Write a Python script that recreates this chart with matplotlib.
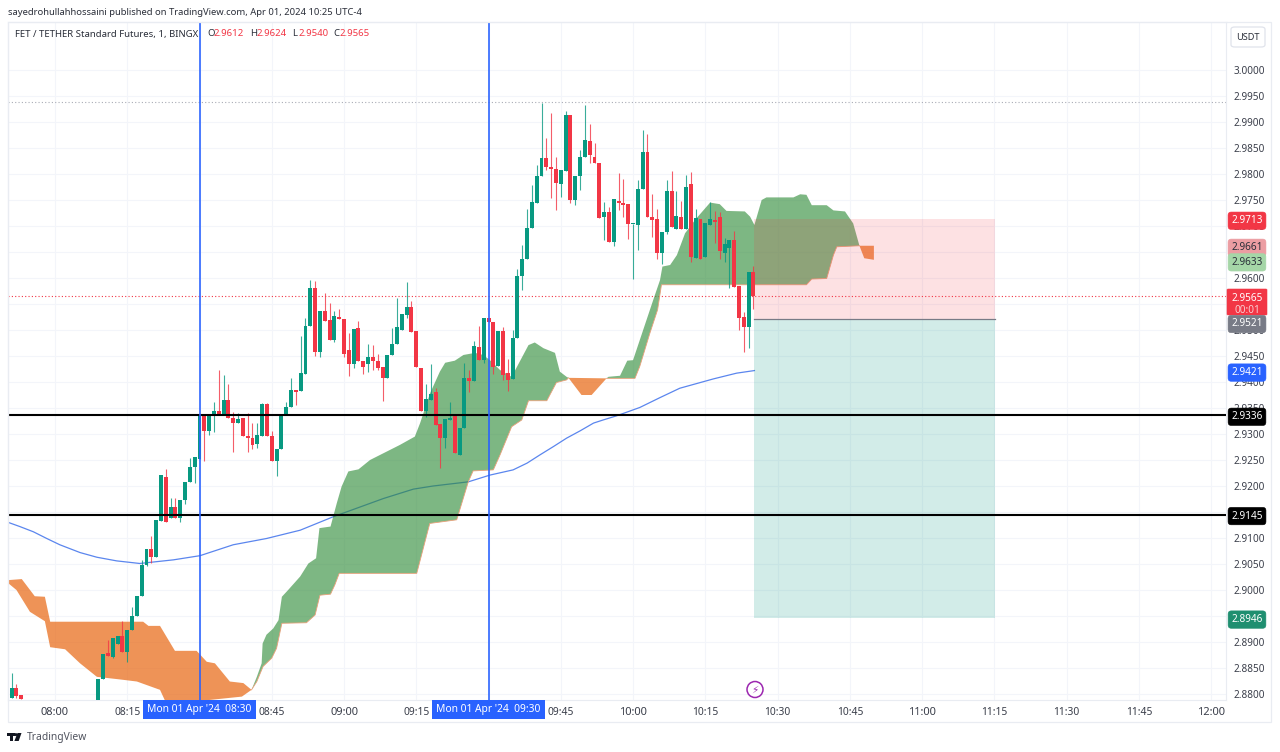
import matplotlib
matplotlib.use("Agg")
import matplotlib.pyplot as plt
from matplotlib.patches import Rectangle, Ellipse, Polygon, FancyBboxPatch
from matplotlib.transforms import blended_transform_factory

# ---- candles: minutes after 08:00, price values ----
minutes = [-10, -9, -8, -7] + list(range(9, 146))
opens = [2.8804,2.8792,2.8812,2.8798,
 2.8780,2.8828,2.8878,2.8872,2.8896,2.8912,2.8881,2.8923,2.8950,2.8989,
 2.9048,2.9078,2.9063,2.9133,2.9218,2.9138,2.9160,2.9138,2.9173,2.9207,
 2.9237,2.9252,2.9336,2.9306,2.9337,2.9345,2.9337,2.9365,2.9331,2.9322,
 2.9331,2.9296,2.9292,2.9281,2.9297,2.9358,2.9297,2.9248,2.9271,2.9339,
 2.9351,2.9385,2.9383,2.9415,2.9508,2.9581,2.9458,2.9537,2.9519,2.9481,
 2.9525,2.9521,2.9462,2.9435,2.9503,2.9441,2.9435,2.9448,2.9441,2.9428,
 2.9408,2.9452,2.9473,2.9500,2.9529,2.9545,2.9498,2.9427,2.9344,2.9365,
 2.9381,2.9319,2.9292,2.9327,2.9335,2.9260,2.9312,2.9407,2.9401,2.9468,
 2.9442,2.9524,2.9515,2.9430,2.9499,2.9417,2.9406,2.9484,2.9603,2.9637,
 2.9697,2.9744,2.9797,2.9830,2.9813,2.9810,2.9781,2.9806,2.9913,2.9750,
 2.9797,2.9832,2.9864,2.9832,2.9821,2.9718,2.9726,2.9669,2.9748,2.9745,
 2.9742,2.9703,2.9702,2.9771,2.9843,2.9717,2.9713,2.9648,2.9688,2.9767,
 2.9694,2.9717,2.9694,2.9781,2.9638,2.9714,2.9640,2.9701,2.9712,2.9718,
 2.9649,2.9658,2.9674,2.9585,2.9525,2.9506,2.9612]
highs = [2.8804,2.8840,2.8820,2.8798,
 2.8828,2.8876,2.8904,2.8908,2.8912,2.8940,2.8924,2.8968,2.8989,2.9058,
 2.9078,2.9103,2.9135,2.9221,2.9232,2.9176,2.9176,2.9173,2.9207,2.9253,
 2.9255,2.9336,2.9337,2.9337,2.9362,2.9423,2.9414,2.9396,2.9343,2.9340,
 2.9331,2.9340,2.9321,2.9321,2.9360,2.9360,2.9305,2.9271,2.9339,2.9362,
 2.9407,2.9385,2.9489,2.9524,2.9596,2.9594,2.9537,2.9572,2.9551,2.9537,
 2.9540,2.9521,2.9494,2.9501,2.9517,2.9441,2.9473,2.9472,2.9454,2.9428,
 2.9452,2.9503,2.9561,2.9531,2.9592,2.9556,2.9498,2.9427,2.9396,2.9435,
 2.9388,2.9319,2.9328,2.9362,2.9335,2.9312,2.9436,2.9424,2.9479,2.9508,
 2.9524,2.9524,2.9515,2.9499,2.9506,2.9444,2.9500,2.9617,2.9663,2.9732,
 2.9779,2.9817,2.9936,2.9869,2.9917,2.9833,2.9807,2.9922,2.9913,2.9797,
 2.9846,2.9933,2.9897,2.9859,2.9821,2.9747,2.9737,2.9751,2.9801,2.9790,
 2.9742,2.9704,2.9788,2.9885,2.9876,2.9761,2.9732,2.9689,2.9788,2.9806,
 2.9767,2.9749,2.9799,2.9803,2.9732,2.9714,2.9705,2.9747,2.9729,2.9726,
 2.9676,2.9674,2.9690,2.9585,2.9535,2.9611,2.9624]
lows = [2.8798,2.8792,2.8792,2.8790,
 2.8770,2.8828,2.8873,2.8869,2.8896,2.8881,2.8862,2.8923,2.8950,2.8989,
 2.9046,2.9051,2.9063,2.9133,2.9131,2.9138,2.9138,2.9131,2.9165,2.9207,
 2.9205,2.9252,2.9248,2.9298,2.9303,2.9337,2.9337,2.9330,2.9265,2.9322,
 2.9296,2.9266,2.9272,2.9274,2.9297,2.9297,2.9248,2.9220,2.9271,2.9339,
 2.9351,2.9356,2.9383,2.9415,2.9508,2.9450,2.9448,2.9518,2.9480,2.9476,
 2.9521,2.9449,2.9412,2.9426,2.9440,2.9415,2.9420,2.9423,2.9424,2.9364,
 2.9408,2.9452,2.9473,2.9500,2.9523,2.9497,2.9428,2.9344,2.9333,2.9365,
 2.9317,2.9234,2.9273,2.9327,2.9263,2.9260,2.9312,2.9380,2.9401,2.9442,
 2.9436,2.9515,2.9415,2.9430,2.9403,2.9383,2.9406,2.9484,2.9577,2.9637,
 2.9697,2.9744,2.9797,2.9808,2.9753,2.9731,2.9755,2.9806,2.9744,2.9740,
 2.9769,2.9832,2.9821,2.9821,2.9715,2.9673,2.9669,2.9662,2.9731,2.9718,
 2.9675,2.9598,2.9654,2.9771,2.9717,2.9678,2.9637,2.9626,2.9684,2.9699,
 2.9694,2.9694,2.9694,2.9630,2.9638,2.9637,2.9640,2.9701,2.9667,2.9637,
 2.9631,2.9581,2.9583,2.9500,2.9458,2.9465,2.9540]
closes = [2.8798,2.8812,2.8796,2.8790,
 2.8828,2.8876,2.8873,2.8908,2.8912,2.8881,2.8924,2.8950,2.8989,2.9048,
 2.9078,2.9063,2.9135,2.9221,2.9131,2.9160,2.9138,2.9173,2.9207,2.9237,
 2.9255,2.9336,2.9306,2.9337,2.9345,2.9337,2.9365,2.9330,2.9322,2.9329,
 2.9296,2.9292,2.9279,2.9299,2.9358,2.9297,2.9248,2.9271,2.9339,2.9351,
 2.9385,2.9381,2.9417,2.9508,2.9581,2.9458,2.9537,2.9518,2.9480,2.9527,
 2.9521,2.9454,2.9435,2.9501,2.9440,2.9428,2.9448,2.9441,2.9427,2.9408,
 2.9452,2.9474,2.9505,2.9531,2.9545,2.9497,2.9428,2.9344,2.9367,2.9377,
 2.9317,2.9292,2.9328,2.9331,2.9263,2.9312,2.9407,2.9402,2.9469,2.9442,
 2.9524,2.9515,2.9428,2.9499,2.9414,2.9403,2.9484,2.9603,2.9637,2.9697,
 2.9747,2.9797,2.9830,2.9813,2.9810,2.9782,2.9807,2.9913,2.9750,2.9797,
 2.9832,2.9865,2.9837,2.9821,2.9715,2.9726,2.9669,2.9751,2.9744,2.9740,
 2.9704,2.9704,2.9772,2.9843,2.9717,2.9712,2.9648,2.9689,2.9767,2.9699,
 2.9719,2.9694,2.9775,2.9640,2.9715,2.9637,2.9705,2.9713,2.9707,2.9651,
 2.9666,2.9674,2.9583,2.9524,2.9506,2.9611,2.9565]

# ---- moving average line ----
ema_t = [-9.7,-7.3,-4.5,-1.7,1,5.2,8.7,12.8,17.6,24.6,30.1,37,43.9,50.9,57.8,68.2,74.4,78.5,85.8,90.3,95.1,98,100.7,103.5,106.2,109,111.8,113.8,116.6,121.4,125.6,129.7,136.7,141.5,145.2]
ema_p = [2.9130,2.9122,2.9112,2.9099,2.9087,2.9072,2.9063,2.9056,2.9051,2.9058,2.9066,2.9087,2.9099,2.9115,2.9141,2.9176,2.9194,2.9200,2.9208,2.9221,2.9231,2.9244,2.9260,2.9276,2.9292,2.9306,2.9321,2.9327,2.9335,2.9351,2.9370,2.9388,2.9406,2.9417,2.9422]

# ---- cloud segments: upper and lower edges ----
o1_up_t = [-9.7,-6.9,-4.2,-2.1,-1,18.3,19.4,21.8,24.9,29.4,31.5,33.2,36.3,39.1,40.8]
o1_up_p = [2.9019,2.9021,2.8988,2.8987,2.8939,2.8939,2.8931,2.8931,2.8883,2.8883,2.8862,2.8859,2.8824,2.8821,2.8808]
o1_lo_t = [-9.7,-8,-5.2,-2.1,-1,2.1,5.2,8.7,13.5,17,21.8,23.2,38.8,40.8]
o1_lo_p = [2.9013,2.9000,2.8958,2.8940,2.8890,2.8886,2.8859,2.8833,2.8828,2.8824,2.8808,2.8780,2.8795,2.8808]

g1_up_t = [40.8,41.9,42.9,43.1,43.9,45.3,46.4,47.1,48.4,50.9,52.6,54.2,54.9,57.2,58.5,59.5,60.9,63,65.4,71.6,74.7,75.8,77.85,79.9,81,83,84.8,87.2,88.9,90.3,92.4,94.8,98.3,99.6,101.4,103.8,104.8,106.2,106.6]
g1_up_p = [2.8808,2.8833,2.8859,2.8897,2.8914,2.8926,2.8942,2.8987,2.9000,2.9026,2.9051,2.9061,2.9119,2.9122,2.9167,2.9199,2.9228,2.9232,2.9250,2.9279,2.9295,2.9321,2.9378,2.9420,2.9437,2.9441,2.9452,2.9456,2.9452,2.9442,2.9423,2.9410,2.9471,2.9476,2.9465,2.9456,2.9420,2.9410,2.9408]
g1_lo_t = [40.8,41.9,43.2,45,46,47.1,52.2,54,55,57.2,58.1,59,75.1,77.8,83.4,85.8,86.8,91,92.4,94.8,96.9,98.3,102.1,104.1,106.2,106.6]
g1_lo_p = [2.8808,2.8824,2.8853,2.8869,2.8888,2.8936,2.8937,2.8952,2.8990,2.8992,2.9010,2.9032,2.9032,2.9128,2.9135,2.9208,2.9229,2.9231,2.9260,2.9314,2.9327,2.9364,2.9364,2.9399,2.9404,2.9408]

o2_up_t = [106.6,114.5]
o2_up_p = [2.9408,2.9407]
o2_lo_t = [106.6,109.3,111.4,114.5]
o2_lo_p = [2.9408,2.9375,2.9375,2.9407]

g2_up_t = [114.5,114.9,117.3,118.8,120,124.2,125.6,126.1,127.7,129.1,130.8,132.9,136,138,139.4,143.2,144.3,145.2,146.7,147.7,153.3,154.7,156,157.1,160.2,161.6,164,165.7,167]
g2_up_p = [2.9407,2.9410,2.9412,2.9441,2.9442,2.9558,2.9596,2.9622,2.9625,2.9644,2.9686,2.9712,2.9745,2.9742,2.9729,2.9728,2.9718,2.9702,2.9750,2.9755,2.9755,2.9761,2.9760,2.9740,2.9740,2.9730,2.9728,2.9705,2.9662]
g2_lo_t = [114.5,120.4,121.4,123.5,125.1,125.9,156,157.1,160.2,161.6,162.3,167]
g2_lo_p = [2.9407,2.9407,2.9430,2.9494,2.9539,2.9587,2.9587,2.9598,2.9599,2.9644,2.9660,2.9662]

o3_up_t = [167,170,170]
o3_up_p = [2.9662,2.9662,2.9635]
o3_lo_t = [167,168,170]
o3_lo_p = [2.9662,2.9638,2.9635]

# ---- levels and labels ----
support_levels = [2.9336, 2.9145]
last_price = 2.9565
high_dotted = 2.9938
target_top = 2.9713
entry_price = 2.9521
target_bottom = 2.8946
position_start = 145.1
position_end = 195.1
marker_times = [30, 90]
marker_labels = ["Mon 01 Apr '24  08:30", "Mon 01 Apr '24  09:30"]

y_ticks = [3.0000,2.9950,2.9900,2.9850,2.9800,2.9750,2.9700,2.9650,2.9600,2.9550,2.9500,2.9450,2.9400,2.9350,2.9300,2.9250,2.9200,2.9150,2.9100,2.9050,2.9000,2.8950,2.8900,2.8850,2.8800]
y_hidden = ["2.9650", "2.9550", "2.9150", "2.8950"]
x_ticks = [0,15,30,45,60,75,90,105,120,135,150,165,180,195,210,225,240]
x_labels = ["08:00","08:15","","08:45","09:00","09:15","","09:45","10:00","10:15","10:30","10:45","11:00","11:15","11:30","11:45","12:00"]

W, H = 1280, 752
FONT = "Noto Sans"
plt.rcParams["font.family"] = [FONT, "DejaVu Sans"]
UP, DOWN, BLUE = "#089981", "#F23645", "#2962FF"
INK = "#3A3E4A"

def fx(x): return x / W
def fy(y): return 1 - y / H

fig = plt.figure(figsize=(W / 100, H / 100), dpi=100, facecolor="white")
L, R, T, B = 8, 1226, 22, 700
ax = fig.add_axes([fx(L), fy(B), (R - L) / W, (B - T) / H])
ax.set_xlim((L - 55) / 4.817, (R - 55) / 4.817)
ax.set_ylim(3 - (B - 70) / 5200, 3 - (T - 70) / 5200)
ax.set_axisbelow(True)
ax.grid(True, color="#F3F5FA", lw=0.8)
for s in ax.spines.values():
    s.set_color("#E9ECF2")
    s.set_linewidth(0.8)
ax.set_yticks(y_ticks)
ax.set_yticklabels(["" if f"{v:.4f}" in y_hidden else f"{v:.4f}" for v in y_ticks])
ax.yaxis.tick_right()
ax.tick_params(axis="y", length=0, pad=5.5, labelsize=7.2, labelcolor=INK)
ax.set_xticks(x_ticks)
ax.set_xticklabels(x_labels)
ax.tick_params(axis="x", length=0, pad=5, labelsize=7.4, labelcolor=INK)
for lab, v in zip(ax.get_xticklabels(), x_labels):
    if v.endswith(":00"):
        lab.set_fontsize(8.0)

# moving average under the clouds
ax.plot(ema_t, ema_p, color="#5B86EE", lw=0.9, zorder=2)

# clouds
GREEN_CLOUD, ORANGE_CLOUD = "#2E8B37", "#E96F1F"
def cloud(ut, up, lt, lp, col, a):
    ax.fill(list(ut) + list(lt)[::-1], list(up) + list(lp)[::-1], color=col, alpha=a, lw=0, zorder=3)
cloud(o1_up_t, o1_up_p, o1_lo_t, o1_lo_p, ORANGE_CLOUD, 0.75)
cloud(g1_up_t, g1_up_p, g1_lo_t, g1_lo_p, GREEN_CLOUD, 0.62)
cloud(o2_up_t, o2_up_p, o2_lo_t, o2_lo_p, ORANGE_CLOUD, 0.75)
cloud(g2_up_t, g2_up_p, g2_lo_t, g2_lo_p, GREEN_CLOUD, 0.62)
cloud(o3_up_t, o3_up_p, o3_lo_t, o3_lo_p, ORANGE_CLOUD, 0.75)
ax.plot(g1_lo_t, g1_lo_p, color="#E9A07A", lw=0.6, zorder=3.1)
ax.plot(g2_lo_t, g2_lo_p, color="#E9A07A", lw=0.6, zorder=3.1)

# position box
ax.add_patch(Rectangle((position_start, entry_price), position_end - position_start, target_top - entry_price,
                       fc=DOWN, alpha=0.15, lw=0, zorder=3.5))
ax.add_patch(Rectangle((position_start, target_bottom), position_end - position_start, entry_price - target_bottom,
                       fc=UP, alpha=0.18, lw=0, zorder=3.5))
ax.plot([position_start, position_end], [entry_price, entry_price], color="#787B86", lw=0.9, zorder=3.6)

# candles
cols = [UP if c >= o else DOWN for o, c in zip(opens, closes)]
ax.vlines(minutes, lows, highs, colors=cols, lw=0.8, alpha=0.8, zorder=4)
ax.bar(minutes, [max(abs(c - o), 0.00025) for o, c in zip(opens, closes)], bottom=[min(o, c) for o, c in zip(opens, closes)],
       width=0.82, color=cols, lw=0, zorder=5)

# levels
for lv in support_levels:
    ax.axhline(lv, color="black", lw=1.5, zorder=6)
ax.axhline(last_price, color=DOWN, lw=0.8, ls=(0, (1, 2)), zorder=2.5)
ax.axhline(high_dotted, color="#A9ACB6", lw=0.8, ls=(0, (1, 2)), zorder=2.5)
for t in marker_times:
    ax.axvline(t, color=BLUE, lw=1.3, alpha=0.9, zorder=7)

# price tags on the price scale
ytrans = blended_transform_factory(fig.transFigure, ax.transData)
def tag(p, txt, bg, fg="white"):
    ax.text(fx(1247), p, txt, transform=ytrans, ha="center", va="center_baseline", fontsize=7.2, color=fg, zorder=20, clip_on=False,
            bbox=dict(boxstyle="round,pad=0.32", fc=bg, ec=bg, lw=0.4))
tag(target_top, f"{target_top:.4f}", DOWN)
tag(2.9661, "2.9661", "#EC9DA2", "#2A2E39")
tag(2.9633, "2.9633", "#A5D6A7", "#2A2E39")
tag(2.9421, "2.9421", BLUE)
tag(support_levels[0], "2.9336", "black")
tag(support_levels[1], "2.9145", "black")
tag(target_bottom, f"{target_bottom:.4f}", "#1F8F70")
# last price tag with its countdown, and the entry tag stacked below it
fig.patches.append(FancyBboxPatch((fx(1227), fy(315)), 40 / W, 26 / H, boxstyle="round,pad=0,rounding_size=0.001",
                                  transform=fig.transFigure, fc=DOWN, ec=DOWN, lw=0.4, zorder=15))
fig.text(fx(1247), fy(297), f"{last_price:.4f}", ha="center", va="center_baseline", fontsize=7.2, color="white", zorder=30)
fig.text(fx(1247), fy(309), "00:01", ha="center", va="center_baseline", fontsize=7.2, color="#F9CDD1", zorder=30)
fig.text(fx(1247), fy(322.5), f"{entry_price:.4f}", ha="center", va="center_baseline", fontsize=7.2, color="white", zorder=30,
         bbox=dict(boxstyle="round,pad=0.32", fc="#787B86", ec="#787B86", lw=0.4))

# time tags
xtrans = blended_transform_factory(ax.transData, fig.transFigure)
for t, lbl in zip(marker_times, marker_labels):
    ax.text(t, fy(709.5), lbl, transform=xtrans, ha="center", va="center", fontsize=7.4, color="white", zorder=20, clip_on=False,
            bbox=dict(boxstyle="square,pad=0.42", fc=BLUE, ec=BLUE, lw=0))

# frame
fig.patches.append(Rectangle((fx(8), fy(722)), 1263 / W, 700 / H, transform=fig.transFigure, fc="none", ec="#E9ECF2", lw=0.9, zorder=1))

# header and legend
fig.text(fx(8), fy(12.5), "sayedrohullahhossaini published on TradingView.com, Apr 01, 2024 10:25 UTC-4",
         ha="left", va="center", fontsize=6.8, color="#2A2E39")
fig.text(fx(15), fy(34), "FET / TETHER Standard Futures, 1, BINGX", ha="left", va="center", fontsize=6.9, color="#2A2E39", zorder=30)
for x, k, v in zip([207, 250, 292, 333], "OHLC", [opens[-1], highs[-1], lows[-1], closes[-1]]):
    fig.text(fx(x), fy(34), k, ha="left", va="center", fontsize=6.9, color="#2A2E39", zorder=30)
    fig.text(fx(x + 6.5), fy(34), f"{v:.4f}", ha="left", va="center", fontsize=6.9, color=DOWN, zorder=30)

# currency button
fig.patches.append(FancyBboxPatch((fx(1231), fy(47)), 34 / W, 20 / H, boxstyle="round,pad=0,rounding_size=0.003",
                                  transform=fig.transFigure, fc="white", ec="#E0E3EB", lw=0.9, zorder=15))
fig.text(fx(1248), fy(37), "USDT", ha="center", va="center", fontsize=6.6, color="#2A2E39", zorder=30)

# footer logo and name
for pts in ([(7, 733), (14.5, 733), (14.5, 736), (12.7, 736), (12.7, 741), (9.6, 741), (9.6, 736), (7, 736)],
            [(17.5, 733), (21.5, 733), (18.7, 741), (14.4, 741)]):
    fig.patches.append(Polygon([(fx(a), fy(b)) for a, b in pts], transform=fig.transFigure, fc="#131722", ec="none", zorder=10))
fig.patches.append(Ellipse((fx(15.9), fy(734.6)), 3 / W, 3 / H, transform=fig.transFigure, fc="#131722", ec="none", zorder=10))
fig.text(fx(27), fy(737.5), "TradingView", ha="left", va="center", fontsize=7.4, color="#50535E")

# flash icon
fig.patches.append(Ellipse((fx(755), fy(689.5)), 16 / W, 16 / H, transform=fig.transFigure, fc="white", ec="#9C27B0", lw=1.1, zorder=12))
fig.text(fx(755), fy(689.5), "\u26a1", ha="center", va="center", fontsize=7.5, color="#9C27B0", family="DejaVu Sans", zorder=30)

fig.savefig("out.png", dpi=100)
